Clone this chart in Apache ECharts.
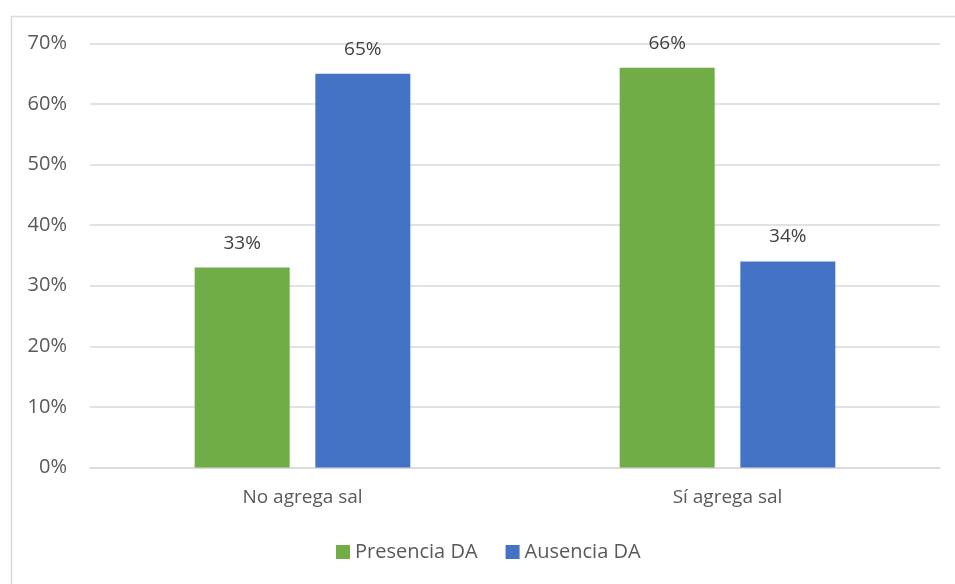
<!DOCTYPE html>
<html>
<head>
<meta charset="utf-8">
<script src="https://cdn.jsdelivr.net/npm/echarts@6/dist/echarts.min.js"></script>
<style>
  html, body { margin: 0; padding: 0; background: #fff; }
  #chart { width: 955px; height: 584px; }
</style>
</head>
<body>
<div id="chart"></div>
<script>
// Share of participants with / without DA, by salt habit
const categories = ['No agrega sal', 'Sí agrega sal'];
const presenciaDA = [33, 66];
const ausenciaDA = [65, 34];
const seriesNames = ['Presencia DA', 'Ausencia DA'];

const FONT = '"Open Sans", "Noto Sans", sans-serif';
const chart = echarts.init(document.getElementById('chart'));

const labelStyle = {
  show: true,
  position: 'top',
  distance: 15,
  formatter: p => p.value + '%',
  color: '#404040',
  fontFamily: FONT,
  fontSize: 19
};

chart.setOption({
  animation: false,
  backgroundColor: '#fff',
  graphic: [{
    type: 'rect',
    left: 9, top: 14,
    shape: { width: 1000, height: 700 },
    style: { fill: 'none', stroke: '#d9d9d9', lineWidth: 1.5 },
    silent: true
  }],
  grid: { left: 90, right: 15, top: 43.5, bottom: 116.5, containLabel: false },
  legend: {
    bottom: 17,
    left: 331,
    itemWidth: 14,
    itemHeight: 14,
    itemGap: 28,
    icon: 'rect',
    textStyle: { color: '#595959', fontFamily: FONT, fontSize: 20 },
    data: seriesNames
  },
  xAxis: {
    type: 'category',
    data: categories,
    axisLine: { lineStyle: { color: '#d9d9d9', width: 1.5 } },
    axisTick: { show: false },
    axisLabel: { color: '#595959', fontFamily: FONT, fontSize: 19, margin: 21 }
  },
  yAxis: {
    type: 'value',
    min: 0,
    max: 70,
    interval: 10,
    axisLine: { show: false },
    axisTick: { show: false },
    splitLine: { lineStyle: { color: '#d9d9d9', width: 1.5 } },
    axisLabel: {
      color: '#595959', fontFamily: FONT, fontSize: 20, margin: 23,
      formatter: v => v + '%'
    }
  },
  series: [
    {
      name: seriesNames[0],
      type: 'bar',
      data: presenciaDA,
      barWidth: 95,
      barGap: '27%',
      itemStyle: { color: '#70ad47' },
      label: labelStyle
    },
    {
      name: seriesNames[1],
      type: 'bar',
      data: ausenciaDA,
      barWidth: 95,
      barGap: '27%',
      itemStyle: { color: '#4472c4' },
      label: labelStyle
    }
  ]
});
</script>
</body>
</html>
